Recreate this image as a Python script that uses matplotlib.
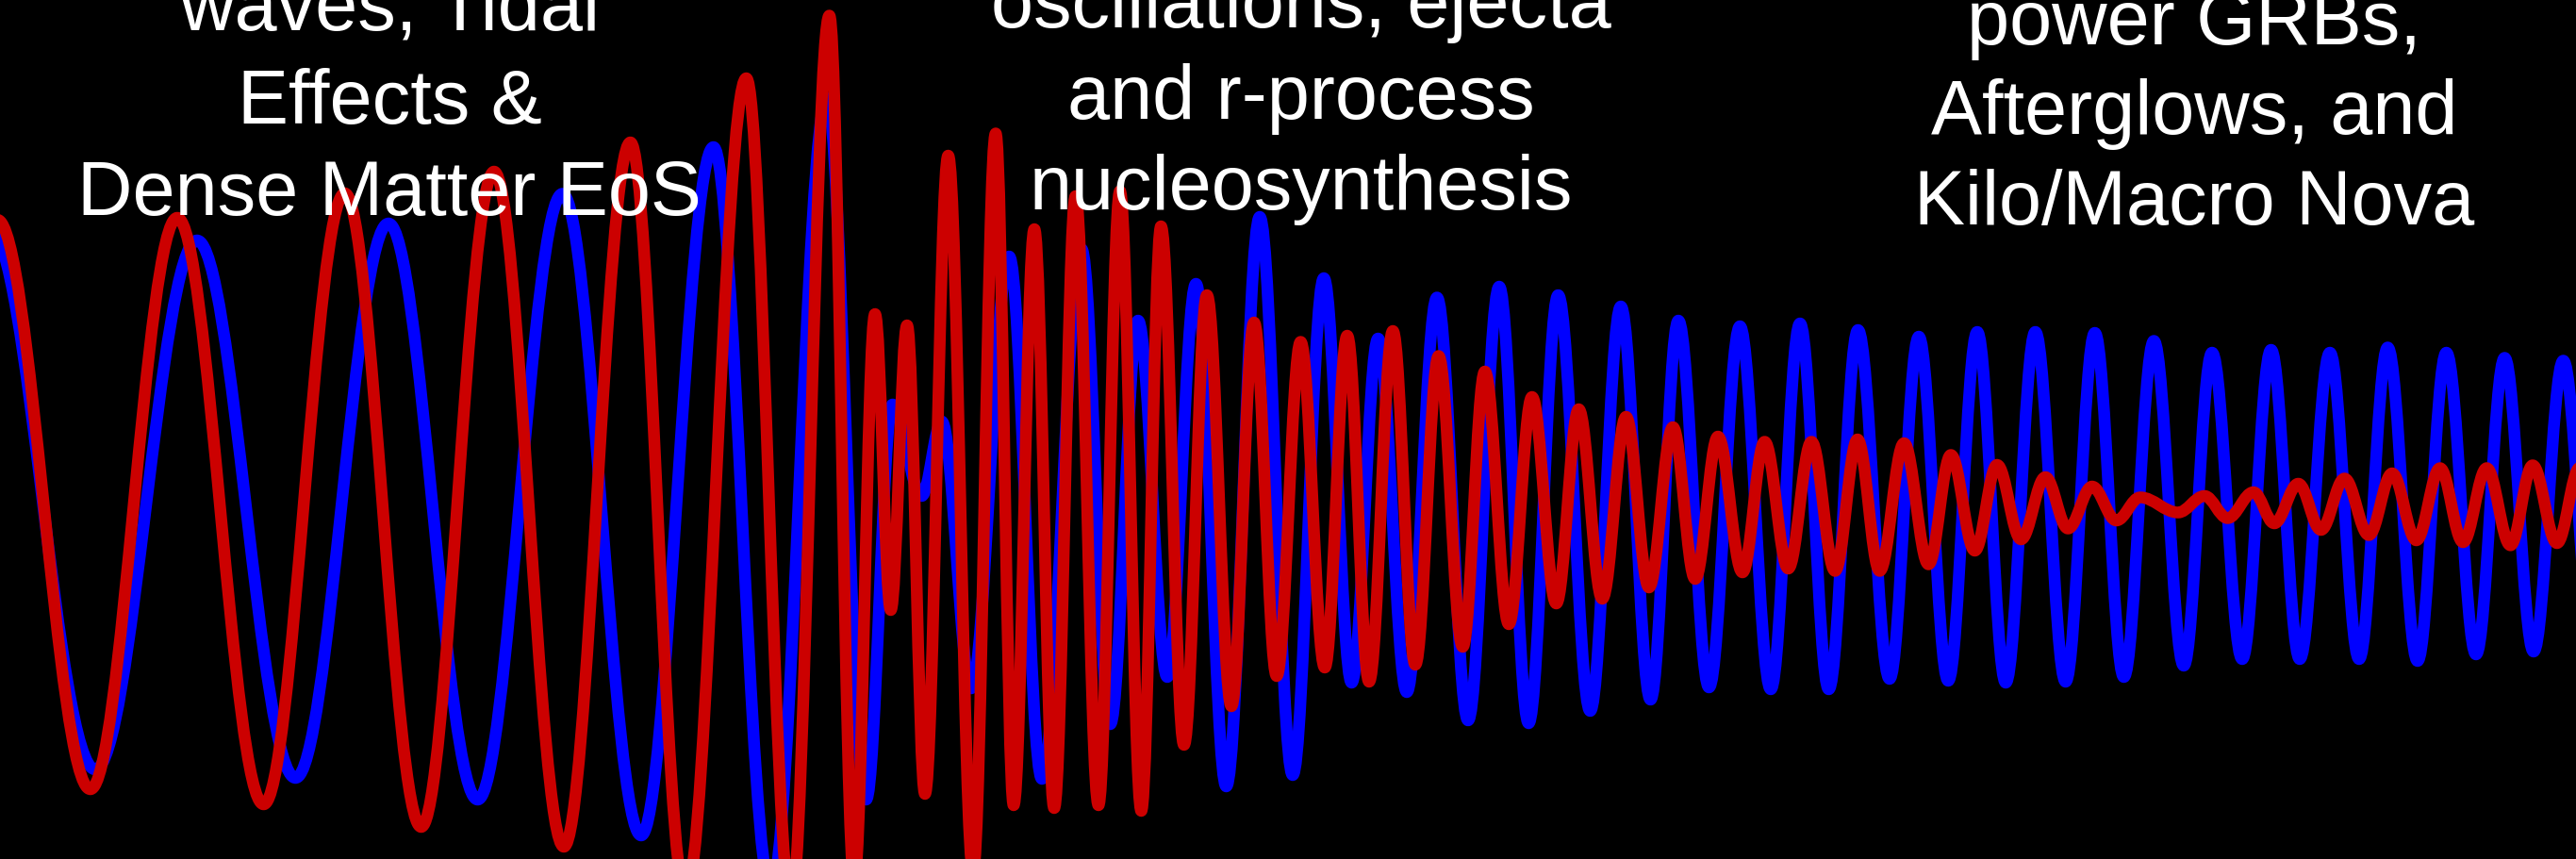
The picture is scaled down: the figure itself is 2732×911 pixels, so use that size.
import numpy as np
import matplotlib
matplotlib.use("Agg")
import matplotlib.pyplot as plt
from matplotlib.path import Path
from matplotlib.patches import PathPatch

# Turning points of the two strain waveforms: time sample and amplitude
# (amplitude axis runs downward, 0 at the top edge of the panel).
blue_t = [-11, 101, 209, 313.4, 412, 506.6, 596.5, 680, 756.7, 817.6, 877,
          918.6, 946.5, 977.5, 998.8, 1030, 1070.3, 1105, 1147, 1177.5, 1207,
          1238, 1268.4, 1300.5, 1336, 1371, 1404, 1433.5, 1461.5, 1492, 1524,
          1557, 1590, 1621.2, 1652.5, 1686.5, 1719, 1750.5, 1780, 1812.5,
          1845.3, 1878, 1909, 1939.5, 1970.5, 2004, 2035, 2066.2, 2097, 2127.2,
          2158.6, 2190.7, 2221.7, 2252.5, 2284.3, 2316, 2346, 2378, 2408.6,
          2439, 2471, 2502, 2532.3, 2564, 2594.5, 2626, 2656.3, 2687, 2718.5,
          2750]
blue_h = [244, 817, 256, 826, 238, 849, 206.5, 887, 157, 945, 105,
          849, 430, 527, 448, 731, 273, 827, 265, 769, 341,
          719, 302, 835, 231, 823, 296, 725, 360, 735, 316.5,
          765, 305, 768, 314, 755, 326, 743, 341, 730,
          347, 732, 344, 732, 351, 721, 358, 723, 353, 725,
          353, 724, 354, 719, 362.5, 707, 375, 700, 372,
          700, 375, 700, 369.5, 702, 375, 695, 380.5, 692, 383.5,
          690]

red_t = [-3, 95.8, 188, 279.6, 365.6, 446.7, 524, 598, 668.6, 727, 791.5,
         839, 879.6, 906, 928, 944.7, 962, 981, 1005.6, 1032, 1056, 1075,
         1097, 1118, 1140.7, 1165, 1187.8, 1210.4, 1231.3, 1255.7, 1280, 1306,
         1330, 1354, 1379.4, 1405, 1428.8, 1452, 1477.2, 1501, 1525.7, 1551.3,
         1574.8, 1600.2, 1624.8, 1650.5, 1674.3, 1699.3, 1724.5, 1748.8,
         1774.2, 1797.8, 1822, 1848, 1871.5, 1896.5, 1921.2, 1946.2, 1970,
         1993.5, 2019.3, 2045.3, 2069, 2094.4, 2118, 2143.4, 2169.2, 2193.2,
         2218.8, 2244.5, 2269.8, 2310, 2338, 2362.5, 2390, 2412, 2437.5,
         2461.5, 2486.5, 2512.3, 2537, 2562.7, 2587.8, 2612.2, 2637.3, 2662.5,
         2686, 2711.8, 2736]
red_h = [234, 838, 232, 854, 206, 878, 183, 899, 152, 950, 84,
         960, 17.5, 935, 334, 648, 346, 843, 166, 925, 142.5, 855,
         244, 858, 209, 855, 203.6, 861, 241, 791, 314, 750,
         343, 718, 363.5, 709, 357, 724, 352, 706, 378.5, 687,
         395, 663, 422, 641, 435, 636, 443, 624,
         454, 615, 464, 608, 469.5, 604, 469.5, 606.5, 467,
         606.5, 471, 599.5, 483.5, 585, 494, 573, 507, 561.5,
         517, 553, 528.5, 544.5, 527, 550.5, 523, 556, 514,
         563, 508.5, 568.5, 503, 574, 497.5, 576, 497.5, 579.3,
         494.5, 577, 497]

# Annotation blocks across the top of the panel
labels = [
    ["waves, Tidal", "Effects &", "Dense Matter EoS"],
    ["oscillations, ejecta", "and r-process", "nucleosynthesis"],
    ["power GRBs,", "Afterglows, and", "Kilo/Macro Nova"],
]
label_x = [413, 1380, 2327]
label_baselines = [[32, 131, 228], [29, 126, 222], [47, 142, 238]]

W, H = 2732, 912


def waveform_path(t, h, k=1 - 2 / np.pi):
    """Smooth path through successive turning points (flat tangents at each)."""
    verts = [(t[0], h[0])]
    codes = [Path.MOVETO]
    for t0, h0, t1, h1 in zip(t[:-1], h[:-1], t[1:], h[1:]):
        dt = t1 - t0
        verts += [(t0 + k * dt, h0), (t1 - k * dt, h1), (t1, h1)]
        codes += [Path.CURVE4] * 3
    return Path(verts, codes)


fig = plt.figure(figsize=(W / 100, H / 100), dpi=100, facecolor="black")
ax = fig.add_axes([0, 0, 1, 1])
ax.set_facecolor("black")
ax.set_xlim(0, W)
ax.set_ylim(H, 0)
ax.axis("off")

for t, h, color, z in [(blue_t, blue_h, "#0000FF", 2), (red_t, red_h, "#CC0000", 3)]:
    patch = PathPatch(waveform_path(t, h), facecolor="none", edgecolor=color,
                      linewidth=9.0, capstyle="round", joinstyle="round", zorder=z)
    ax.add_patch(patch)

for lines, x, ys in zip(labels, label_x, label_baselines):
    for line, y in zip(lines, ys):
        ax.text(x, y, line, ha="center", va="baseline", color="white",
                fontsize=58.3, family="Liberation Sans", zorder=5)

fig.savefig("out.png", dpi=100, facecolor="black")
